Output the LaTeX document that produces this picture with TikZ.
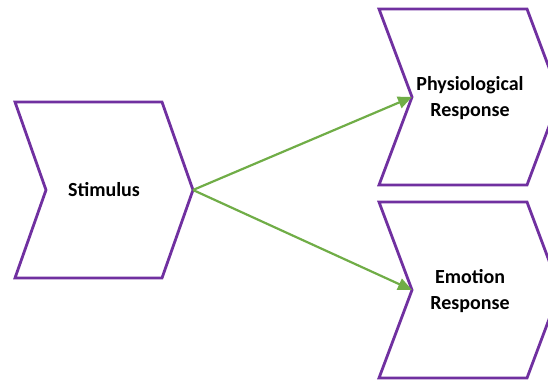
\documentclass[tikz,border=0pt]{standalone}
\usepackage{fontspec}
\setmainfont{Carlito}
\usetikzlibrary{arrows.meta}
\definecolor{chevronpurple}{HTML}{7030A0}
\definecolor{linkgreen}{HTML}{70AD47}
\tikzset{
  chevron/.style={draw=chevronpurple, line width=2.8pt, fill=white, line join=miter},
  label/.style={font=\fontsize{20}{26}\selectfont\bfseries, align=center, text=black},
  link/.style={draw=linkgreen, line width=2.2pt, -{Triangle[length=14pt,width=12pt]}}
}
\begin{document}
\begin{tikzpicture}[x=1pt,y=-1pt]
\useasboundingbox (0,0) rectangle (548,382);
% chevron: left x, top y, bottom y, body width, notch depth
\newcommand{\chev}[5]{%
  \draw[chevron] (#1,#2) -- ({#1+#4},#2) -- ({#1+#4+#5},{(#2+#3)/2}) -- ({#1+#4},#3)
    -- (#1,#3) -- ({#1+#5},{(#2+#3)/2}) -- cycle;}
\chev{15}{102}{278}{147}{31}
\chev{379}{9}{185}{148}{33}
\chev{379}{202}{378}{148}{33}
\coordinate (stimtip) at (193,190);
\coordinate (physnotch) at (412,97);
\coordinate (emonotch) at (412,290);
\node[label] (stim) at (104,190) {Stimulus};
\node[label] (phys) at (470,98) {Physiological\\Response};
\node[label] (emo) at (470,291) {Emotion\\Response};
\draw[link] (stimtip) -- (physnotch);
\draw[link] (stimtip) -- (emonotch);
\end{tikzpicture}
\end{document}
